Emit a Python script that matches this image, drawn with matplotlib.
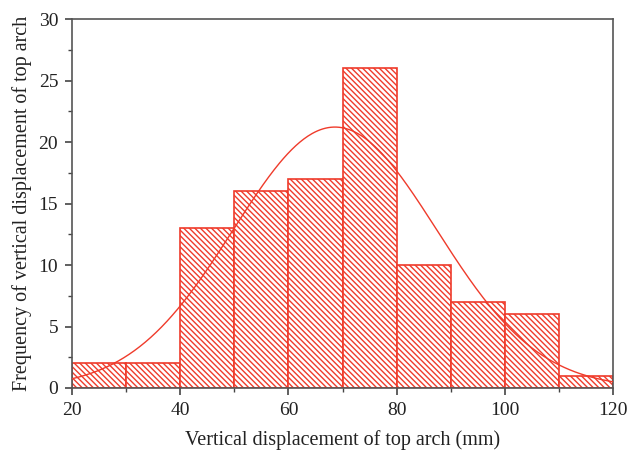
import numpy as np
import matplotlib
matplotlib.use("Agg")
import matplotlib.pyplot as plt
from matplotlib.ticker import MultipleLocator

bin_edges = [20, 30, 40, 50, 60, 70, 80, 90, 100, 110, 120]
counts = [2, 2, 13, 16, 17, 26, 10, 7, 6, 1]
fit_mean = 68.6
fit_sd = 18.8

red = '#ef3b2b'
plt.rcParams['font.family'] = ['Liberation Serif', 'DejaVu Serif']
plt.rcParams['hatch.linewidth'] = 1.0
plt.rcParams['hatch.color'] = red

fig = plt.figure(figsize=(6.29, 4.55), dpi=100)
ax = fig.add_axes([0.1145, 0.1473, 0.8601, 0.8107])

edges = np.array(bin_edges, dtype=float)
widths = np.diff(edges)
ax.bar(edges[:-1], counts, width=widths, align='edge', facecolor='white',
       edgecolor=red, linewidth=1.2, hatch='\\' * 6, zorder=2)

n_total = sum(counts)
xs = np.linspace(edges[0], edges[-1], 400)
ys = n_total * widths[0] / (fit_sd * np.sqrt(2 * np.pi)) * np.exp(-(xs - fit_mean) ** 2 / (2 * fit_sd ** 2))
ax.plot(xs, ys, color=red, linewidth=1.0, zorder=3)

ax.set_xlim(20, 120)
ax.set_ylim(0, 30)
ax.xaxis.set_major_locator(MultipleLocator(20))
ax.xaxis.set_minor_locator(MultipleLocator(10))
ax.yaxis.set_major_locator(MultipleLocator(5))
ax.yaxis.set_minor_locator(MultipleLocator(2.5))
ax.tick_params(which='both', direction='out', top=False, right=False, colors='#444444',
               labelcolor='#222222', labelsize=14)
ax.tick_params(which='major', length=5, width=1.2, pad=5)
ax.tick_params(which='minor', length=3, width=1.0)
for s in ax.spines.values():
    s.set_color('#555555')
    s.set_linewidth(1.2)

ax.set_xlabel('Vertical displacement of top arch (mm)', fontsize=14.5, color='#222222', labelpad=8)
ax.set_ylabel('Frequency of vertical displacement of top arch', fontsize=14.5, color='#222222', labelpad=5)

fig.savefig('out.png', dpi=100)
